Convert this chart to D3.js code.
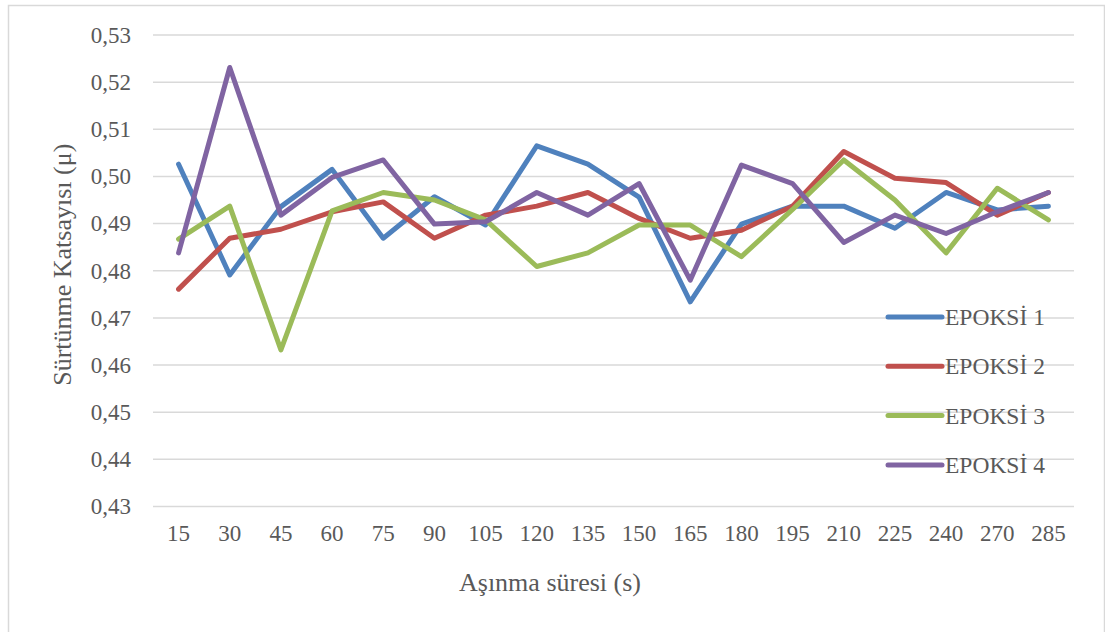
<!DOCTYPE html>
<html>
<head>
<meta charset="utf-8">
<script src="https://cdn.jsdelivr.net/npm/d3@7"></script>
<style>
  html, body { margin: 0; padding: 0; background: #fff; }
  svg { display: block; }
  svg text { font-family: "Liberation Serif", "DejaVu Serif", serif; }
</style>
</head>
<body>
<svg id="chart" width="1105" height="632"></svg>
<script>
// Wear time categories (s)
const categories = ["15","30","45","60","75","90","105","120","135","150","165","180","195","210","225","240","270","285"];

// Friction coefficient per sample
const epoksi1 = [0.5026,0.4791,0.4936,0.5015,0.4869,0.4957,0.4897,0.5065,0.5026,0.4956,0.4734,0.4899,0.4937,0.4937,0.4890,0.4966,0.4929,0.4937];
const epoksi2 = [0.4761,0.4869,0.4888,0.4925,0.4946,0.4869,0.4918,0.4937,0.4966,0.4911,0.4869,0.4886,0.4937,0.5053,0.4996,0.4987,0.4918,0.4966];
const epoksi3 = [0.4867,0.4937,0.4632,0.4927,0.4966,0.4950,0.4908,0.4809,0.4838,0.4897,0.4897,0.4830,0.4930,0.5035,0.4950,0.4838,0.4975,0.4908];
const epoksi4 = [0.4838,0.5231,0.4918,0.4998,0.5035,0.4899,0.4904,0.4966,0.4918,0.4985,0.4780,0.5024,0.4985,0.4860,0.4918,0.4879,0.4925,0.4966];

const seriesNames = ["EPOKSİ 1","EPOKSİ 2","EPOKSİ 3","EPOKSİ 4"];
const seriesColors = ["#4F81BD","#C0504D","#9BBB59","#8064A2"];
const yTicks = [0.43,0.44,0.45,0.46,0.47,0.48,0.49,0.50,0.51,0.52,0.53];

const series = [epoksi1, epoksi2, epoksi3, epoksi4].map((values, i) => ({
  name: seriesNames[i], color: seriesColors[i], values
}));

const svg = d3.select("#chart");
const textColor = "#595959";

// Chart frame
svg.append("rect")
  .attr("x", 8.5).attr("y", 5.5)
  .attr("width", 1096).attr("height", 640)
  .attr("fill", "#fff")
  .attr("stroke", "#D9D9D9").attr("stroke-width", 1.5);

const plot = { left: 153, right: 1074, top: 35, bottom: 506.5 };

const x = d3.scaleBand().domain(categories).range([plot.left, plot.right]);
const y = d3.scaleLinear().domain([0.43, 0.53]).range([plot.bottom, plot.top]);

// Horizontal gridlines
svg.append("g")
  .selectAll("line")
  .data(yTicks)
  .join("line")
  .attr("x1", plot.left).attr("x2", plot.right)
  .attr("y1", d => y(d)).attr("y2", d => y(d))
  .attr("stroke", "#D9D9D9").attr("stroke-width", 1.5);

// Y axis labels
const yAxis = d3.axisLeft(y).tickValues(yTicks)
  .tickFormat(d => d3.format(".2f")(d).replace(".", ","))
  .tickSize(0).tickPadding(22);
const gy = svg.append("g").attr("transform", `translate(${plot.left},0)`).call(yAxis);
gy.select(".domain").remove();
gy.attr("font-family", null).attr("font-size", null);
gy.selectAll("text").attr("font-size", 23).attr("fill", textColor);

// X axis labels
const xAxis = d3.axisBottom(x).tickSize(0).tickPadding(18);
const gx = svg.append("g").attr("transform", `translate(0,${plot.bottom})`).call(xAxis);
gx.select(".domain").remove();
gx.attr("font-family", null).attr("font-size", null);
gx.selectAll("text").attr("font-size", 23).attr("fill", textColor);

// Axis titles
svg.append("text")
  .attr("x", 550).attr("y", 591)
  .attr("text-anchor", "middle")
  .attr("font-size", 26).attr("fill", textColor)
  .text("Aşınma süresi (s)");

svg.append("text")
  .attr("transform", `translate(71,${(plot.top + plot.bottom) / 2 - 6}) rotate(-90)`)
  .attr("text-anchor", "middle")
  .attr("font-size", 26).attr("fill", textColor)
  .text("Sürtünme Katsayısı (μ)");

// Series lines
const line = d3.line()
  .x((d, i) => x(categories[i]) + x.bandwidth() / 2)
  .y(d => y(d));

svg.append("g")
  .selectAll("path")
  .data(series)
  .join("path")
  .attr("d", d => line(d.values))
  .attr("fill", "none")
  .attr("stroke", d => d.color)
  .attr("stroke-width", 5)
  .attr("stroke-linejoin", "round")
  .attr("stroke-linecap", "round");

// Legend
const legend = svg.append("g").attr("transform", "translate(888,317)");
const item = legend.selectAll("g")
  .data(series)
  .join("g")
  .attr("transform", (d, i) => `translate(0,${i * 49.3})`);
item.append("line")
  .attr("x1", 0).attr("x2", 54)
  .attr("stroke", d => d.color).attr("stroke-width", 5)
  .attr("stroke-linecap", "round");
item.append("text")
  .attr("x", 57).attr("y", 8)
  .attr("font-size", 23.5).attr("fill", textColor)
  .text(d => d.name);
</script>
</body>
</html>
